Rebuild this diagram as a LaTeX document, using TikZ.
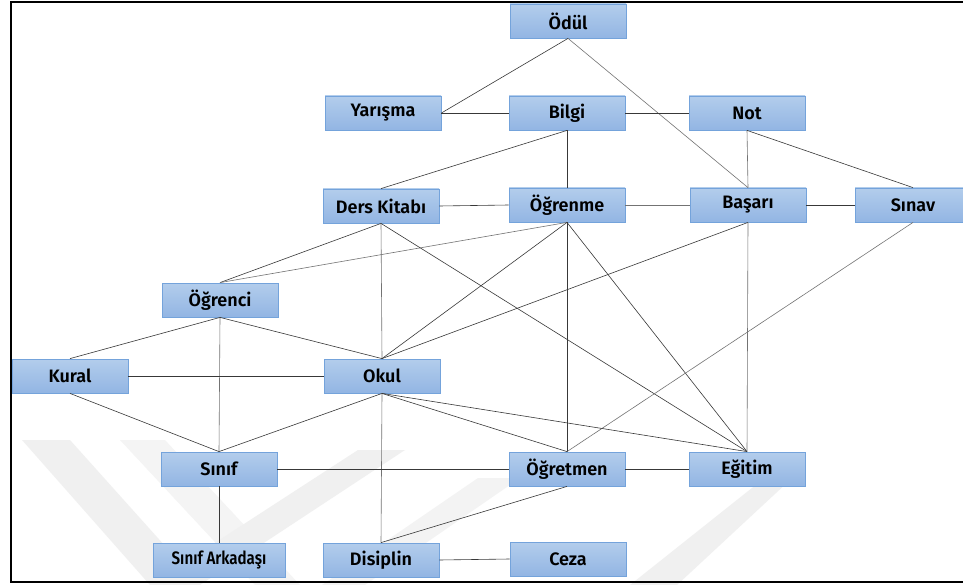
\documentclass[tikz,border=0pt]{standalone}
\usepackage{fontspec}
\usepackage{graphicx}
\setmainfont{Fira Sans SemiBold}
\definecolor{boxtop}{HTML}{B3CDEC}
\definecolor{boxbot}{HTML}{92B5E3}
\definecolor{boxline}{HTML}{74A3DB}
\definecolor{mark}{HTML}{F0F0F0}
\tikzset{
  box/.style={rectangle, top color=boxtop, bottom color=boxbot, draw=boxline,
    line width=0.8pt, minimum width=116pt, minimum height=34pt, inner sep=0pt,
    font=\fontsize{18}{21}\selectfont},
  link/.style={draw=black!78, line width=0.6pt},
  faint/.style={draw=black!55, line width=0.6pt},
  band/.style={fill=mark, draw=none}
}
\begin{document}
\begin{tikzpicture}[x=1pt, y=-1pt]
\useasboundingbox (0,0) rectangle (963,585);
\fill[white] (0,0) rectangle (963,585);

% faint background emblem
\fill[band] (22,440) -- (70,440) -- (200,585) -- (150,585) -- cycle;
\fill[band, fill=mark!70] (120,440) -- (165,440) -- (300,585) -- (255,585) -- cycle;
\fill[band] (150,585) -- (200,585) -- (405,450) -- (358,450) -- cycle;
\fill[band, fill=mark!80] (322,585) -- (365,585) -- (520,478) -- (478,478) -- cycle;
\fill[band] (630,585) -- (677,585) -- (790,480) -- (762,480) -- cycle;

% frame
\draw[line width=2pt] (963,2) -- (11,2) -- (11,582) -- (963,582);

% nodes
\node[box] (odul)    at (568,21)  {Ödül};
\node[box] (yarisma) at (383,113) {Yarışma};
\node[box] (bilgi)   at (567,113) {Bilgi};
\node[box] (not)     at (747,113) {Not};
\node[box] (ders)    at (381,206) {Ders Kitabı};
\node[box] (ogrenme) at (567,205) {Öğrenme};
\node[box] (basari)  at (748,205) {Başarı};
\node[box] (sinav)   at (913,205) {Sınav};
\node[box] (ogrenci) at (220,300) {Öğrenci};
\node[box] (kural)   at (70,376)  {Kural};
\node[box] (okul)    at (382,376) {Okul};
\node[box] (sinif)   at (219,469) {Sınıf};
\node[box] (ogretmen) at (567,469) {Öğretmen};
\node[box] (egitim)  at (747,469) {Eğitim};
\node[box, minimum width=132pt] (arkadas) at (219,560) {\scalebox{0.84}[1]{Sınıf Arkadaşı}};
\node[box] (disiplin) at (381,560) {Disiplin};
\node[box] (ceza)    at (568,559) {Ceza};

% connectors
\draw[link]  (odul.south) -- (yarisma.east);
\draw[faint] (odul.south) -- (basari.north);
\draw[link]  (yarisma.east) -- (bilgi.west);
\draw[link]  (bilgi.east) -- (not.west);
\draw[link]  (bilgi.south) -- (ders.north);
\draw[link]  (bilgi.south) -- (ogrenme.north);
\draw[faint] (not.south) -- (basari.north);
\draw[link]  (not.south) -- (sinav.north);
\draw[link]  (ders.east) -- (ogrenme.west);
\draw[faint] (ogrenme.east) -- (basari.west);
\draw[link]  (basari.east) -- (sinav.west);
\draw[link]  (ders.south) -- (ogrenci.north);
\draw[faint] (ogrenme.south) -- (ogrenci.north);
\draw[faint] (ders.south) -- (okul.north);
\draw[link]  (ders.south) -- (egitim.north);
\draw[link]  (ogrenme.south) -- (okul.north);
\draw[link]  (ogrenme.south) -- (ogretmen.north);
\draw[link]  (ogrenme.south) -- (egitim.north);
\draw[link]  (basari.south) -- (okul.north);
\draw[faint] (basari.south) -- (egitim.north);
\draw[faint] (sinav.south) -- (ogretmen.north);
\draw[link]  (ogrenci.south) -- (kural.north);
\draw[faint] (ogrenci.south) -- (sinif.north);
\draw[link]  (ogrenci.south) -- (okul.north);
\draw[link]  (kural.east) -- (okul.west);
\draw[link]  (kural.south) -- (sinif.north);
\draw[link]  (okul.south) -- (sinif.north);
\draw[faint] (okul.south) -- (disiplin.north);
\draw[link]  (okul.south) -- (ogretmen.north);
\draw[link]  (okul.south) -- (egitim.north);
\draw[link]  (sinif.east) -- (ogretmen.west);
\draw[link]  (ogretmen.east) -- (egitim.west);
\draw[link]  (sinif.south) -- (arkadas.north);
\draw[link]  (ogretmen.south) -- (disiplin.north);
\draw[link]  (disiplin.east) -- (ceza.west);
\end{tikzpicture}
\end{document}
